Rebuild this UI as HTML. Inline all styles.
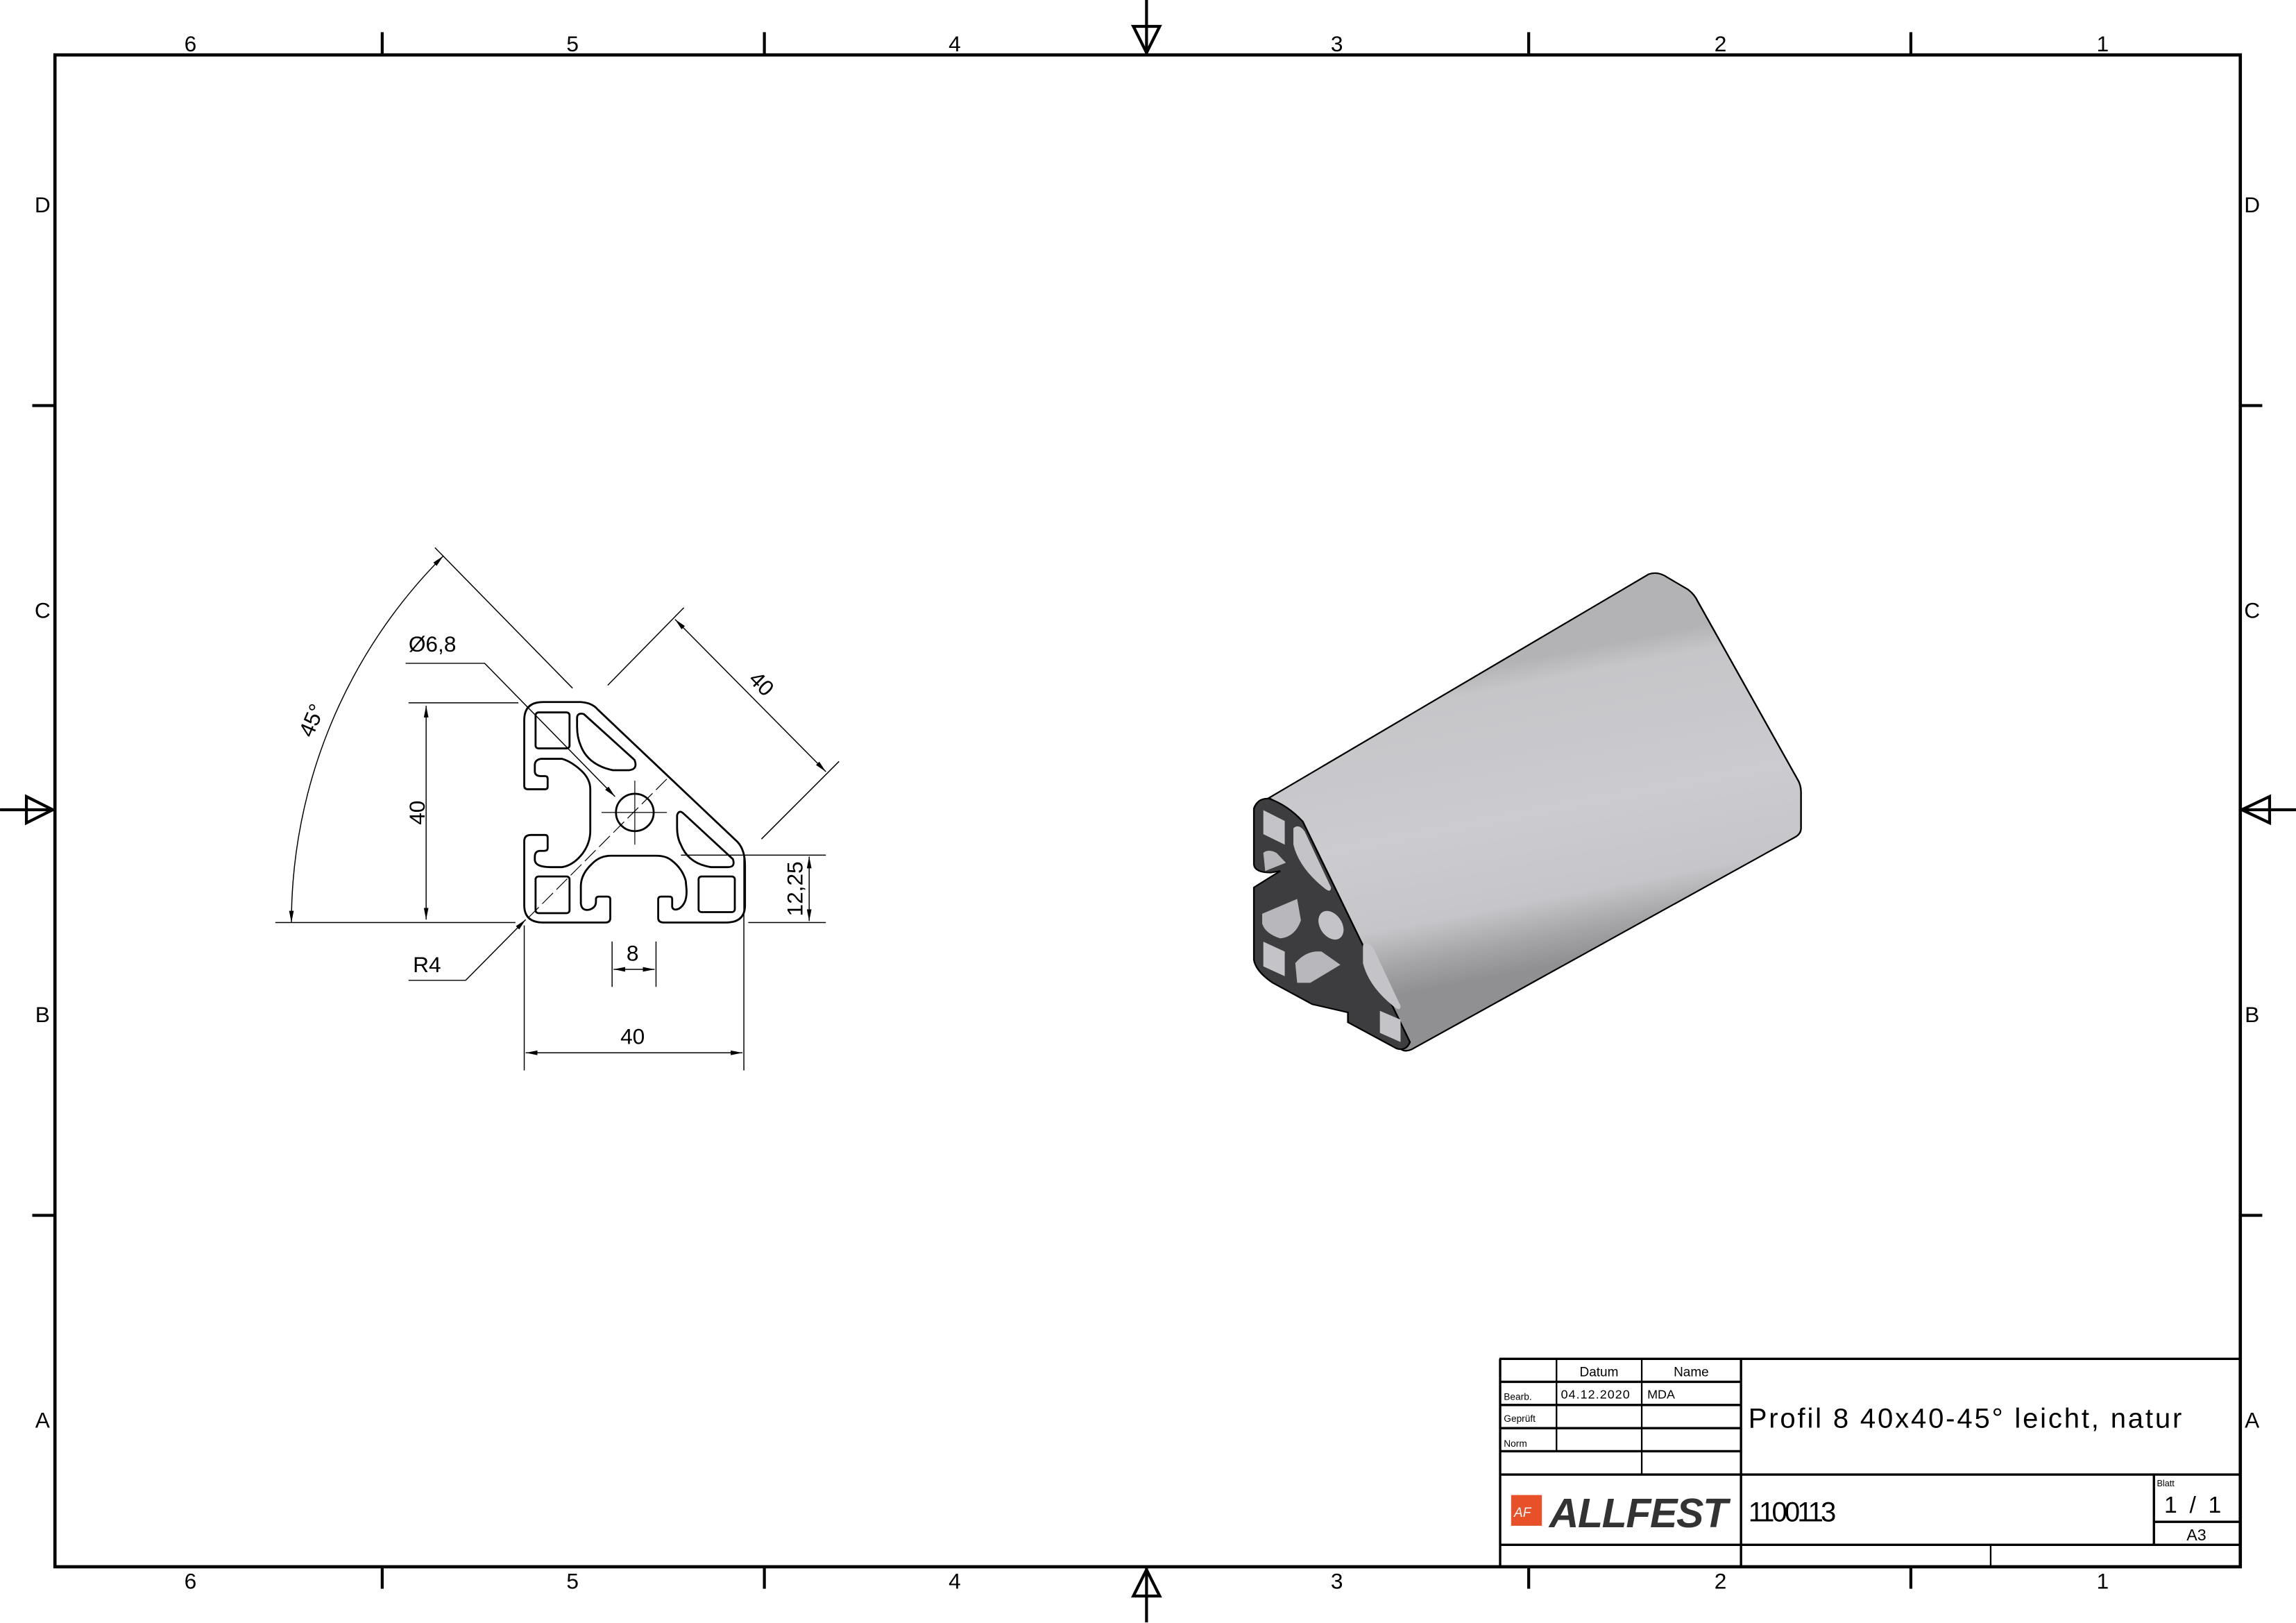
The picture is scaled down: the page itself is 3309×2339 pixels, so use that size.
<!DOCTYPE html>
<html><head><meta charset="utf-8"><style>
html,body{margin:0;padding:0;background:#fff;}
svg{display:block;}
text{font-family:"Liberation Sans",sans-serif;fill:#000;}
</style></head><body>
<svg width="3309" height="2339" viewBox="0 0 1568 1108.4" xmlns="http://www.w3.org/2000/svg">
<defs>
<marker id="ar" viewBox="0 0 10 4" refX="10" refY="2" markerWidth="8" markerHeight="3.2" markerUnits="userSpaceOnUse" orient="auto-start-reverse"><path d="M0,0 L10,2 L0,4 Z" fill="#000"/></marker>
<linearGradient id="bg" gradientUnits="userSpaceOnUse" x1="700" y1="333" x2="900" y2="1235">
<stop offset="0" stop-color="#b3b3b5"/><stop offset="0.08" stop-color="#c6c6c9"/><stop offset="0.5" stop-color="#cbcbd0"/><stop offset="0.78" stop-color="#c6c6ca"/><stop offset="0.9" stop-color="#a6a6a8"/><stop offset="1" stop-color="#909092"/>
</linearGradient>
</defs>
<rect width="1568" height="1108.4" fill="#fff"/>
<!-- frame -->
<rect x="37.5" y="37.5" width="1492.5" height="1032.5" fill="none" stroke="#000" stroke-width="2.2"/>
<g stroke="#000" stroke-width="2" fill="none">
<path d="M261,22V37M522,22V37M1044,22V37M1305,22V37M261,1070V1085M522,1070V1085M1044,1070V1085M1305,1070V1085M22,277H37M22,830H37M1530,277H1545M1530,830H1545"/>
<path d="M783,0V37M774,18H792L783,36Z"/>
<path d="M783,1070V1108M774,1090H792L783,1072Z"/>
<path d="M0,553H37M18,544V562L36,553Z"/>
<path d="M1530,553H1568M1550,544V562L1531,553Z"/>
</g>
<g font-size="15" text-anchor="middle">
<text x="130" y="35">6</text><text x="391" y="35">5</text><text x="652" y="35">4</text><text x="913" y="35">3</text><text x="1175" y="35">2</text><text x="1436" y="35">1</text>
<text x="130" y="1085">6</text><text x="391" y="1085">5</text><text x="652" y="1085">4</text><text x="913" y="1085">3</text><text x="1175" y="1085">2</text><text x="1436" y="1085">1</text>
<text x="29" y="145">D</text><text x="29" y="422">C</text><text x="29" y="698">B</text><text x="29" y="975">A</text>
<text x="1538" y="145">D</text><text x="1538" y="422">C</text><text x="1538" y="698">B</text><text x="1538" y="975">A</text>
</g>

<!-- profile section -->
<g transform="translate(180.2,368.8) scale(0.2577,0.2364)" fill="none" stroke="#000" stroke-width="2.8" vector-effect="non-scaling-stroke">
<path vector-effect="non-scaling-stroke" d="M740,468 L840,468 Q870,470 885,490 L1255,872 Q1275,895 1275,940 L1275,1055 Q1275,1105 1225,1105 L1060,1105 Q1045,1105 1045,1092 L1045,1038 Q1045,1030 1053,1030 L1075,1030 Q1082,1030 1082,1038 L1082,1060 Q1085,1072 1100,1065 Q1122,1050 1120,1010 L1118,985 Q1110,950 1080,925 Q1065,912 1040,912 L920,912 Q890,912 870,935 Q840,965 840,1000 L840,1050 Q842,1072 862,1068 Q880,1062 880,1045 L880,1038 Q880,1030 888,1030 L910,1030 Q918,1030 918,1038 L918,1092 Q918,1105 905,1105 L740,1105 Q690,1105 690,1055 L690,870 Q690,852 708,852 L745,852 Q752,852 752,860 L752,890 Q752,898 742,898 L730,898 Q718,900 718,915 L718,925 Q720,945 760,945 L790,945 Q820,940 845,905 Q865,875 865,840 L865,720 Q865,690 840,665 Q815,640 790,632 L735,632 Q718,635 718,650 L718,668 Q718,682 735,682 L745,682 Q752,682 752,690 L752,712 Q752,720 745,720 L700,720 Q690,720 690,710 L690,520 Q690,468 740,468 Z"/>
<rect vector-effect="non-scaling-stroke" x="720" y="498" width="90" height="104" rx="8"/>
<rect vector-effect="non-scaling-stroke" x="720" y="972" width="90" height="106" rx="8"/>
<rect vector-effect="non-scaling-stroke" x="1152" y="972" width="96" height="103" rx="8"/>
<path vector-effect="non-scaling-stroke" d="M830,512 Q832,498 848,503 L982,635 Q992,662 968,665 L925,665 Q860,650 840,595 Q830,570 830,540 Z"/>
<path vector-effect="non-scaling-stroke" d="M1095,795 Q1100,778 1112,790 L1243,922 Q1250,945 1230,945 L1185,945 Q1125,935 1105,880 Q1095,860 1095,830 Z"/>
<ellipse vector-effect="non-scaling-stroke" cx="983" cy="787" rx="50" ry="54"/>
<path vector-effect="non-scaling-stroke" stroke-width="1.2" d="M895,787H1068M983,695V880"/>
<path vector-effect="non-scaling-stroke" stroke-width="1.2" stroke-dasharray="22 7" d="M700,1092 L1070,688"/>
</g>

<!-- dimensions -->
<g stroke="#000" stroke-width="0.7" fill="none">
<path d="M279,480H354M188,630H352"/>
<path d="M291,482V628" marker-start="url(#ar)" marker-end="url(#ar)"/>
<path d="M297,374L391,470"/>
<path d="M199,630 A354 354 0 0 1 302.7,379.7" marker-start="url(#ar)" marker-end="url(#ar)"/>
<path d="M277,453H331L420,544" marker-end="url(#ar)"/>
<path d="M415,468L467,415M520,573L573,520"/>
<path d="M461,423L564,527" marker-start="url(#ar)" marker-end="url(#ar)"/>
<path d="M465,584H564M511,630H564"/>
<path d="M552.6,585V629" marker-start="url(#ar)" marker-end="url(#ar)"/>
<path d="M418,643V674M448,643V674"/>
<path d="M419,662H447" marker-start="url(#ar)" marker-end="url(#ar)"/>
<path d="M358,632V731M508,585V731"/>
<path d="M359,719H507" marker-start="url(#ar)" marker-end="url(#ar)"/>
<path d="M279,669.5H318L359,628" marker-end="url(#ar)"/>
</g>
<g font-size="15">
<text x="284" y="561" transform="rotate(-90 284 555)" text-anchor="middle">40</text>
<text x="213" y="497" transform="rotate(-67 213 492)" text-anchor="middle">45°</text>
<text x="279" y="445">Ø6,8</text>
<text x="520" y="472" transform="rotate(45 520 467)" text-anchor="middle">40</text>
<text x="543" y="612" transform="rotate(-90 543 607)" text-anchor="middle">12,25</text>
<text x="432" y="656" text-anchor="middle">8</text>
<text x="432" y="713" text-anchor="middle">40</text>
<text x="282" y="664">R4</text>
</g>

<!-- iso view -->
<g transform="translate(843.5,379.1) scale(0.2568,0.2247)">
<path d="M90,738 L1100,58 Q1125,48 1150,68 L1205,105 Q1222,120 1230,140 L1495,680 Q1505,698 1505,720 L1505,830 Q1505,848 1488,858 L470,1502 Q450,1512 440,1500 L180,810 L140,770 Z" fill="url(#bg)" stroke="#000" stroke-width="4.5"/>
<path d="M90,740 Q60,738 50,770 L50,940 Q52,965 95,965 L120,960 L50,1010 L50,1230 Q55,1265 100,1300 L205,1365 L300,1390 L300,1420 L430,1500 Q455,1508 465,1480 L180,810 Q140,760 90,740 Z" fill="#3d3d3f" stroke="#000" stroke-width="4.5"/>
<path d="M75,775 L132,808 L132,880 L75,848 Z" fill="#c4c4c8"/>
<path d="M75,1175 L132,1205 L132,1280 L75,1250 Z" fill="#c4c4c8"/>
<path d="M385,1385 L440,1412 L440,1480 L385,1452 Z" fill="#c4c4c8"/>
<path d="M155,830 Q170,815 185,840 L255,1010 Q255,1030 235,1010 Q170,950 155,880 Z" fill="#c4c4c8"/>
<path d="M340,1185 Q355,1170 370,1200 L440,1370 Q440,1390 420,1370 Q355,1310 340,1240 Z" fill="#c4c4c8"/>
<ellipse cx="255" cy="1125" rx="30" ry="46" transform="rotate(-25 255 1125)" fill="#c4c4c8"/>
<path d="M75,905 Q88,892 110,905 L135,935 L80,960 Z" fill="#b8b8bc"/>
<path d="M72,1090 L165,1045 L175,1110 Q160,1160 120,1165 Q80,1150 72,1120 Z" fill="#b8b8bc"/>
<path d="M160,1240 Q190,1200 230,1205 L280,1245 L200,1300 L165,1300 Z" fill="#b8b8bc"/>
</g>

<!-- title block -->
<g stroke="#000" fill="none">
<path stroke-width="1.6" d="M1024.5,928V1070M1189,928V1070M1024,928H1530M1024,1007H1530M1024,1055H1530M1024,943.7H1189M1024,959.5H1189M1024,975.3H1189M1024,991.1H1189M1471,1007V1055M1471,1039.3H1530"/>
<path stroke-width="1.1" d="M1063,928V991M1121.2,928V1007M1359.5,1055V1070"/>
</g>
<g font-family="Liberation Sans, sans-serif">
<text x="1092" y="940" font-size="9" text-anchor="middle">Datum</text>
<text x="1155" y="940" font-size="9" text-anchor="middle">Name</text>
<text x="1027" y="956" font-size="6.5">Bearb.</text>
<text x="1066" y="955" font-size="8.5" textLength="47">04.12.2020</text>
<text x="1125" y="955" font-size="8.5">MDA</text>
<text x="1027" y="971" font-size="6.5">Geprüft</text>
<text x="1027" y="988" font-size="6.5">Norm</text>
<text x="1194" y="975" font-size="19" textLength="296">Profil 8 40x40-45° leicht, natur</text>
<text x="1194" y="1039" font-size="19" textLength="60">1100113</text>
<text x="1473" y="1015" font-size="6">Blatt</text>
<text x="1478" y="1033" font-size="16" textLength="39">1 / 1</text>
<text x="1500" y="1052" font-size="11" text-anchor="middle">A3</text>
<rect x="1032" y="1021" width="21" height="21" fill="#e8502a"/>
<text x="1034" y="1036" font-size="9" style="fill:#fff" font-style="italic">AF</text>
<text x="1058" y="1043" font-size="28" font-weight="bold" font-style="italic" style="fill:#333" textLength="122">ALLFEST</text>
</g>
</svg>
</body></html>
